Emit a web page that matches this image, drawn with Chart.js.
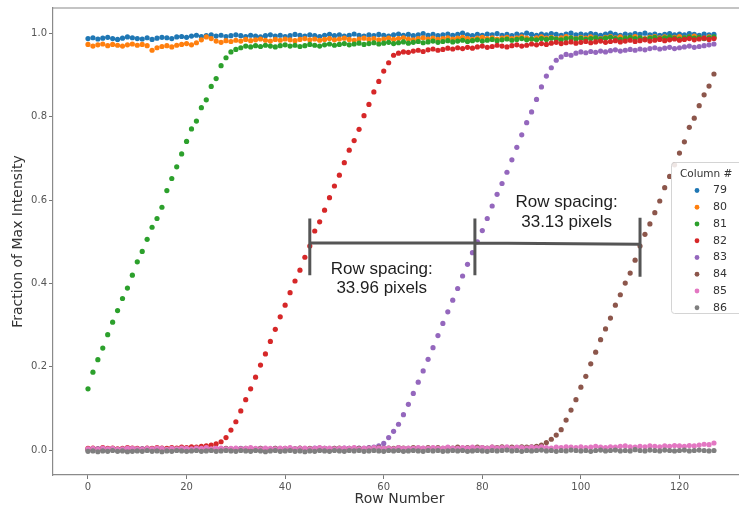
<!DOCTYPE html>
<html><head><meta charset="utf-8">
<script src="https://cdn.jsdelivr.net/npm/chart.js@4.4.0/dist/chart.umd.min.js"></script>
<style>
html,body{margin:0;padding:0;background:#fff;overflow:hidden;}
#wrap{width:739px;height:511px;overflow:hidden;position:relative;}
canvas{display:block;}
</style></head><body>
<div id="wrap"><canvas id="c" width="760" height="511"></canvas></div>
<script>
const rowNumbers = [0,1,2,3,4,5,6,7,8,9,10,11,12,13,14,15,16,17,18,19,20,21,22,23,24,25,26,27,28,29,30,31,32,33,34,35,36,37,38,39,40,41,42,43,44,45,46,47,48,49,50,51,52,53,54,55,56,57,58,59,60,61,62,63,64,65,66,67,68,69,70,71,72,73,74,75,76,77,78,79,80,81,82,83,84,85,86,87,88,89,90,91,92,93,94,95,96,97,98,99,100,101,102,103,104,105,106,107,108,109,110,111,112,113,114,115,116,117,118,119,120,121,122,123,124,125,126,127];
const seriesNames = ['79','80','81','82','83','84','85','86'];
const col79 = [0.988,0.990,0.987,0.989,0.991,0.988,0.986,0.989,0.992,0.990,
0.988,0.987,0.990,0.986,0.989,0.991,0.990,0.988,0.992,0.993,
0.991,0.994,0.996,0.993,0.995,0.997,0.994,0.996,0.993,0.995,
0.997,0.995,0.993,0.996,0.994,0.992,0.995,0.997,0.994,0.996,
0.993,0.995,0.998,0.996,0.994,0.997,0.995,0.993,0.996,0.998,
0.995,0.997,0.994,0.996,0.999,0.996,0.994,0.997,0.995,0.998,
0.996,0.994,0.997,0.999,0.996,0.998,0.995,0.997,1.000,0.996,
0.998,0.995,0.997,0.999,0.996,0.998,1.001,0.997,0.995,0.998,
0.996,0.999,0.997,1.000,0.996,0.998,0.995,0.999,0.997,1.001,
0.998,0.996,0.999,0.997,1.000,0.998,0.996,0.999,1.001,0.997,
0.999,0.997,1.000,0.998,0.996,0.999,1.001,0.998,0.996,0.999,
0.997,1.000,0.998,1.001,0.997,0.999,0.996,0.998,1.000,0.997,
0.999,0.997,1.000,0.998,0.996,0.999,0.997,0.998];
const col80 = [0.974,0.970,0.973,0.975,0.971,0.974,0.972,0.970,0.973,0.975,
0.972,0.974,0.971,0.960,0.966,0.969,0.971,0.968,0.972,0.974,
0.976,0.973,0.978,0.985,0.992,0.988,0.982,0.979,0.983,0.981,
0.984,0.982,0.986,0.983,0.985,0.987,0.984,0.982,0.986,0.984,
0.987,0.985,0.983,0.986,0.988,0.985,0.987,0.984,0.986,0.988,
0.985,0.987,0.989,0.986,0.984,0.987,0.989,0.986,0.988,0.985,
0.987,0.989,0.986,0.988,0.990,0.987,0.985,0.988,0.990,0.987,
0.989,0.986,0.988,0.990,0.987,0.989,0.991,0.988,0.986,0.989,
0.991,0.988,0.990,0.987,0.989,0.991,0.988,0.990,0.992,0.989,
0.987,0.990,0.992,0.989,0.991,0.988,0.990,0.993,0.990,0.988,
0.991,0.989,0.992,0.990,0.988,0.991,0.993,0.990,0.992,0.989,
0.991,0.993,0.990,0.988,0.991,0.993,0.990,0.992,0.989,0.991,
0.993,0.990,0.992,0.994,0.991,0.989,0.992,0.990];
const col81 = [0.147,0.187,0.217,0.245,0.277,0.307,0.335,0.364,0.389,0.420,
0.452,0.477,0.506,0.535,0.556,0.583,0.623,0.652,0.680,0.711,
0.741,0.771,0.790,0.822,0.841,0.873,0.892,0.923,0.942,0.956,
0.962,0.966,0.970,0.968,0.971,0.969,0.972,0.970,0.968,0.971,
0.973,0.970,0.972,0.969,0.971,0.974,0.972,0.970,0.973,0.975,
0.972,0.974,0.976,0.973,0.975,0.977,0.974,0.976,0.978,0.975,
0.977,0.979,0.976,0.978,0.980,0.977,0.979,0.981,0.978,0.980,
0.982,0.979,0.981,0.983,0.980,0.982,0.984,0.981,0.983,0.985,
0.982,0.984,0.986,0.983,0.985,0.987,0.984,0.986,0.988,0.985,
0.987,0.985,0.988,0.986,0.989,0.987,0.985,0.988,0.990,0.987,
0.989,0.986,0.988,0.990,0.987,0.989,0.991,0.988,0.986,0.989,
0.991,0.988,0.990,0.987,0.989,0.991,0.988,0.990,0.992,0.989,
0.987,0.990,0.992,0.989,0.991,0.988,0.990,0.992];
const col82 = [0.004,0.005,0.003,0.006,0.004,0.005,0.003,0.004,0.006,0.005,
0.004,0.003,0.005,0.004,0.006,0.005,0.004,0.006,0.005,0.007,
0.006,0.008,0.007,0.009,0.010,0.012,0.015,0.020,0.030,0.048,
0.068,0.094,0.121,0.147,0.175,0.204,0.231,0.261,0.290,0.320,
0.348,0.378,0.406,0.432,0.463,0.490,0.526,0.548,0.576,0.606,
0.634,0.660,0.690,0.720,0.743,0.770,0.803,0.830,0.860,0.885,
0.910,0.930,0.948,0.953,0.956,0.955,0.958,0.960,0.957,0.961,
0.963,0.960,0.962,0.965,0.963,0.966,0.964,0.967,0.965,0.968,
0.970,0.967,0.969,0.972,0.970,0.968,0.971,0.973,0.970,0.972,
0.975,0.973,0.976,0.974,0.977,0.979,0.976,0.978,0.980,0.977,
0.979,0.981,0.978,0.980,0.982,0.979,0.981,0.983,0.980,0.982,
0.984,0.981,0.983,0.985,0.982,0.984,0.986,0.983,0.985,0.987,
0.984,0.986,0.988,0.985,0.987,0.989,0.986,0.988];
const col83 = [0.002,0.001,0.003,0.002,0.001,0.003,0.002,0.002,0.001,0.003,
0.002,0.003,0.001,0.002,0.003,0.002,0.001,0.003,0.002,0.003,
0.002,0.001,0.003,0.002,0.003,0.002,0.004,0.002,0.003,0.002,
0.003,0.004,0.002,0.003,0.002,0.004,0.003,0.002,0.004,0.003,
0.002,0.004,0.003,0.004,0.002,0.003,0.005,0.003,0.004,0.003,
0.004,0.003,0.005,0.004,0.003,0.005,0.004,0.006,0.007,0.010,
0.016,0.030,0.045,0.062,0.085,0.110,0.136,0.163,0.190,0.218,
0.246,0.275,0.304,0.332,0.360,0.388,0.418,0.446,0.474,0.500,
0.527,0.556,0.586,0.614,0.640,0.667,0.697,0.727,0.757,0.786,
0.812,0.842,0.872,0.898,0.918,0.936,0.944,0.950,0.948,0.953,
0.956,0.954,0.957,0.955,0.958,0.956,0.959,0.961,0.958,0.960,
0.962,0.960,0.963,0.961,0.964,0.966,0.963,0.965,0.967,0.964,
0.966,0.968,0.970,0.967,0.969,0.971,0.973,0.975];
const col84 = [0.001,0.003,0.002,0.001,0.002,0.003,0.001,0.002,0.003,0.002,
0.001,0.002,0.003,0.002,0.001,0.003,0.002,0.003,0.001,0.002,
0.003,0.002,0.004,0.002,0.003,0.001,0.003,0.002,0.004,0.003,
0.002,0.003,0.004,0.002,0.003,0.004,0.003,0.002,0.004,0.003,
0.004,0.002,0.003,0.005,0.003,0.004,0.003,0.005,0.004,0.003,
0.004,0.005,0.003,0.004,0.005,0.004,0.003,0.005,0.004,0.006,
0.004,0.005,0.004,0.006,0.005,0.004,0.006,0.005,0.004,0.006,
0.005,0.006,0.004,0.006,0.005,0.007,0.005,0.006,0.005,0.007,
0.006,0.005,0.007,0.006,0.008,0.006,0.007,0.006,0.008,0.007,
0.008,0.009,0.012,0.018,0.026,0.036,0.049,0.072,0.096,0.121,
0.151,0.177,0.207,0.235,0.265,0.291,0.317,0.348,0.373,0.401,
0.425,0.456,0.490,0.518,0.543,0.570,0.598,0.630,0.657,0.685,
0.713,0.740,0.775,0.797,0.827,0.853,0.874,0.903];
const col85 = [0.003,0.004,0.002,0.005,0.003,0.004,0.002,0.003,0.005,0.004,
0.003,0.002,0.004,0.003,0.005,0.004,0.002,0.004,0.003,0.005,
0.004,0.003,0.005,0.004,0.006,0.003,0.004,0.005,0.003,0.004,
0.005,0.003,0.004,0.006,0.004,0.003,0.005,0.004,0.003,0.005,
0.004,0.006,0.003,0.004,0.005,0.003,0.004,0.006,0.004,0.005,
0.003,0.004,0.005,0.004,0.006,0.003,0.005,0.004,0.006,0.005,
0.004,0.005,0.003,0.006,0.004,0.005,0.004,0.006,0.005,0.004,
0.006,0.004,0.005,0.007,0.005,0.004,0.006,0.005,0.007,0.005,
0.006,0.004,0.007,0.005,0.006,0.008,0.005,0.007,0.006,0.005,
0.007,0.006,0.008,0.006,0.005,0.007,0.006,0.008,0.007,0.006,
0.008,0.006,0.007,0.009,0.007,0.006,0.008,0.007,0.009,0.010,
0.008,0.007,0.009,0.008,0.010,0.009,0.008,0.010,0.009,0.011,
0.010,0.009,0.011,0.010,0.012,0.014,0.013,0.017];
const col86 = [-0.003,-0.002,-0.004,-0.002,-0.003,-0.001,-0.003,-0.002,-0.004,-0.003,
-0.002,-0.003,-0.001,-0.003,-0.002,-0.004,-0.002,-0.003,-0.001,-0.002,
-0.003,-0.002,-0.001,-0.003,-0.002,-0.001,-0.003,-0.002,-0.001,-0.002,
-0.003,-0.001,-0.002,-0.003,-0.001,-0.002,-0.004,-0.002,-0.001,-0.003,
-0.002,-0.001,-0.003,-0.002,-0.004,-0.002,-0.003,-0.001,-0.002,-0.003,
-0.001,-0.002,-0.003,-0.001,-0.002,-0.001,-0.003,-0.002,-0.001,-0.002,
-0.003,-0.001,-0.002,-0.001,-0.003,-0.002,-0.001,-0.002,-0.003,-0.001,
-0.002,-0.001,-0.003,-0.002,-0.001,-0.002,-0.001,-0.003,-0.002,-0.001,
-0.002,-0.003,-0.001,-0.002,-0.001,0.000,-0.002,-0.001,-0.003,-0.001,
-0.002,-0.001,0.000,-0.002,-0.001,-0.003,-0.001,-0.002,0.000,-0.001,
-0.002,-0.001,-0.003,-0.001,0.000,-0.002,-0.001,0.000,-0.002,-0.001,
-0.002,0.001,-0.001,-0.002,0.000,-0.001,-0.002,0.000,-0.001,-0.002,
-0.001,0.000,-0.002,-0.001,0.000,-0.001,-0.002,-0.001];
const seriesValues = [col79,col80,col81,col82,col83,col84,col85,col86];
const seriesColors = ['#1f77b4','#ff7f0e','#2ca02c','#d62728','#9467bd','#8c564b','#e377c2','#7f7f7f'];
const xTicks = [0,20,40,60,80,100,120];
const yTicks = [0.0,0.2,0.4,0.6,0.8,1.0];
const legendTitle = 'Column #';
// annotation (data coordinates)
const bracketX = [45.0, 78.5, 112.0];
const bracketY = [0.498, 0.497, 0.494];
const bracketTop = [0.556, 0.556, 0.558];
const bracketBottom = [0.420, 0.420, 0.416];
const noteLines = [['Row spacing:','33.96 pixels'],['Row spacing:','33.13 pixels']];
const noteX = [59.6, 97.1];
const noteY = [[0.434,0.389],[0.594,0.548]];

const FONT = '"DejaVu Sans", sans-serif';

const datasets = seriesNames.map((name,i)=>({
  label: name,
  data: rowNumbers.map((r,j)=>({x:r, y:seriesValues[i][j]})),
  backgroundColor: seriesColors[i],
  borderColor: seriesColors[i],
  pointRadius: 2.6,
  pointBorderWidth: 0,
  pointHoverRadius: 2.6,
  showLine: false,
  order: seriesNames.length - i
}));

const framePlugin = {
  id:'frame',
  beforeDatasetsDraw(chart){
    const {ctx, chartArea:a} = chart;
    ctx.save();
    ctx.strokeStyle = '#8a8a8a'; ctx.lineWidth = 1.2;
    ctx.beginPath();
    ctx.moveTo(a.left, a.top); ctx.lineTo(a.right, a.top); ctx.lineTo(a.right, a.bottom);
    ctx.stroke();
    ctx.restore();
  }
};

const notesPlugin = {
  id:'notes',
  afterDatasetsDraw(chart){
    const {ctx, scales:{x, y}} = chart;
    ctx.save();
    ctx.strokeStyle = '#555555'; ctx.lineWidth = 3; ctx.lineCap = 'butt';
    ctx.beginPath();
    bracketX.forEach((bx,i)=>{
      const px = x.getPixelForValue(bx);
      ctx.moveTo(px, y.getPixelForValue(bracketTop[i]));
      ctx.lineTo(px, y.getPixelForValue(bracketBottom[i]));
    });
    bracketX.forEach((bx,i)=>{
      const px = x.getPixelForValue(bx), py = y.getPixelForValue(bracketY[i]);
      if (i===0) ctx.moveTo(px,py); else ctx.lineTo(px,py);
    });
    ctx.stroke();
    ctx.fillStyle = '#1e1e1e';
    ctx.font = '17px "Liberation Sans", Arial, sans-serif';
    ctx.textAlign = 'center'; ctx.textBaseline = 'middle';
    noteLines.forEach((lines,i)=>{
      lines.forEach((t,k)=>{
        ctx.fillText(t, x.getPixelForValue(noteX[i]), y.getPixelForValue(noteY[i][k]));
      });
    });
    ctx.restore();
  }
};

const legendPlugin = {
  id:'boxLegend',
  afterDraw(chart){
    const {ctx} = chart;
    const bx = 671.5, by = 162.5, bw = 90, bh = 151;
    ctx.save();
    ctx.fillStyle = 'rgba(255,255,255,0.85)';
    ctx.strokeStyle = '#d4d4d4'; ctx.lineWidth = 1;
    ctx.beginPath();
    ctx.roundRect(bx, by, bw, bh, 3);
    ctx.fill(); ctx.stroke();
    ctx.fillStyle = '#333';
    ctx.font = '10.5px ' + FONT;
    ctx.textAlign = 'left'; ctx.textBaseline = 'middle';
    ctx.fillText(legendTitle, 680, 174);
    chart.data.datasets.forEach((ds,i)=>{
      const yy = 190.5 + i*16.75;
      ctx.fillStyle = ds.backgroundColor;
      ctx.beginPath(); ctx.arc(697, yy, 2.4, 0, Math.PI*2); ctx.fill();
      ctx.fillStyle = '#333';
      ctx.font = '11px ' + FONT;
      ctx.fillText(ds.label, 713, yy);
    });
    ctx.restore();
  }
};

new Chart(document.getElementById('c'), {
  type:'scatter',
  data:{datasets},
  plugins:[framePlugin, notesPlugin, legendPlugin],
  options:{
    responsive:false,
    animation:false,
    events:[],
    layout:{padding:{left:0, right:14, top:6, bottom:0}},
    plugins:{legend:{display:false}, tooltip:{enabled:false}},
    scales:{
      x:{
        type:'linear', min:-7.1, max:133.5,
        afterBuildTicks: s => { s.ticks = xTicks.map(v=>({value:v})); },
        afterFit: s => { s.height = 36; },
        grid:{drawOnChartArea:false, drawTicks:true, tickLength:4, color:'#777', lineWidth:1},
        border:{display:true, color:'#8a8a8a', width:1.2},
        ticks:{font:{family:FONT, size:10}, color:'#555', padding:2, maxRotation:0, autoSkip:false,
               callback: v => String(v)},
        title:{display:true, text:'Row Number', font:{family:FONT, size:14}, color:'#333', padding:{top:0, bottom:3}}
      },
      y:{
        type:'linear', min:-0.0598, max:1.0614,
        afterBuildTicks: s => { s.ticks = yTicks.map(v=>({value:v})); },
        afterFit: s => { s.width = 53; },
        grid:{drawOnChartArea:false, drawTicks:true, tickLength:4, color:'#777', lineWidth:1},
        border:{display:true, color:'#8a8a8a', width:1.2},
        ticks:{font:{family:FONT, size:10}, color:'#555', padding:2, autoSkip:false,
               callback: v => Number(v).toFixed(1)},
        title:{display:true, text:'Fraction of Max Intensity', font:{family:FONT, size:14}, color:'#333', padding:{top:10, bottom:0}}
      }
    }
  }
});
</script>
</body></html>
